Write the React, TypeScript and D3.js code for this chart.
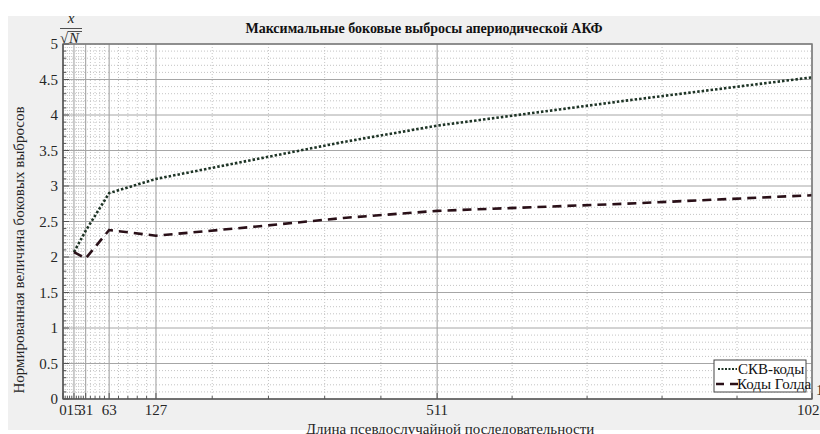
import React from "react";
import * as d3 from "d3";

const lengths = [15, 31, 63, 127, 255, 383, 511, 767, 1023];
const skvValues = [2.07, 2.37, 2.9, 3.1, 3.36, 3.62, 3.85, 4.2, 4.53];
const goldValues = [2.07, 1.98, 2.38, 2.3, 2.42, 2.55, 2.65, 2.75, 2.87];
const xTicks = [0, 15, 31, 63, 127, 511, 1023];
const yTicks = [0, 0.5, 1, 1.5, 2, 2.5, 3, 3.5, 4, 4.5, 5];

const title = "Максимальные боковые выбросы апериодической АКФ";
const xLabel = "Длина псевдослучайной последовательности";
const yLabel = "Нормированная величина боковых выбросов";
const seriesNames = ["СКВ-коды", "Коды Голда"];

const W = 820;
const H = 434;
const L = 63, R = 812, T = 44, B = 399;
const FONT = "Liberation Serif";
const SKV_COLOR = "#1e3426";
const GOLD_COLOR = "#2a1018";
const TXT = "#262626";

export default function App() {
  const x = d3.scaleLinear().domain([0, 1023]).range([L, R]);
  const y = d3.scaleLinear().domain([0, 5]).range([B, T]);

  const xMinor: number[] = [];
  for (let i = 0; i < xTicks.length - 1; i++) {
    const a = xTicks[i], b = xTicks[i + 1];
    for (let k = 1; k < 5; k++) xMinor.push(a + ((b - a) * k) / 5);
  }
  const yMinor: number[] = [];
  for (let i = 0; i <= 50; i++) {
    if (i % 5 !== 0) yMinor.push(i / 10);
  }

  const line = d3
    .line<[number, number]>()
    .x((d) => x(d[0]))
    .y((d) => y(d[1]));

  const skvPath = line(lengths.map((n, i) => [n, skvValues[i]] as [number, number])) || "";
  const goldPath = line(lengths.map((n, i) => [n, goldValues[i]] as [number, number])) || "";

  return (
    <div style={{ position: "absolute", left: 0, top: 0 }}>
      <svg width={W} height={H} style={{ display: "block" }}>
        <rect x={0} y={0} width={W} height={H} fill="#ffffff" />
        <rect x={8} y={16} width={W - 8} height={414} fill="#f0f0f0" />
        <rect x={L} y={T} width={R - L} height={B - T} fill="#ffffff" />

        {/* minor grid */}
        {xMinor.map((v, i) => (
          <line key={"xm" + i} x1={x(v)} x2={x(v)} y1={T} y2={B} stroke="#c4c4c4" strokeWidth={1} strokeDasharray="1,2" />
        ))}
        {yMinor.map((v, i) => (
          <line key={"ym" + i} x1={L} x2={R} y1={y(v)} y2={y(v)} stroke="#c4c4c4" strokeWidth={1} strokeDasharray="1,2" />
        ))}
        {/* major grid */}
        {xTicks.map((v, i) => (
          <line key={"xg" + i} x1={x(v)} x2={x(v)} y1={T} y2={B} stroke="#999999" strokeWidth={1} />
        ))}
        {yTicks.map((v, i) => (
          <line key={"yg" + i} x1={L} x2={R} y1={y(v)} y2={y(v)} stroke="#a6a6a6" strokeWidth={1} />
        ))}

        {/* data */}
        <path d={skvPath} fill="none" stroke={SKV_COLOR} strokeWidth={2.6} strokeDasharray="2.5,2" />
        <path d={goldPath} fill="none" stroke={GOLD_COLOR} strokeWidth={2.6} strokeDasharray="9,6" />

        {/* box */}
        <rect x={L} y={T} width={R - L} height={B - T} fill="none" stroke="#7a7a7a" strokeWidth={1.5} />
        <line x1={L} x2={L} y1={T} y2={B} stroke="#555555" strokeWidth={1.2} />
        <line x1={L} x2={R} y1={B} y2={B} stroke="#555555" strokeWidth={1.2} />

        {/* ticks */}
        {xTicks.map((v, i) => (
          <line key={"xt" + i} x1={x(v)} x2={x(v)} y1={B} y2={B - 6} stroke="#555555" strokeWidth={1} />
        ))}
        {xMinor.map((v, i) => (
          <line key={"xmt" + i} x1={x(v)} x2={x(v)} y1={B} y2={B - 3} stroke="#555555" strokeWidth={1} />
        ))}
        {yTicks.map((v, i) => (
          <line key={"yt" + i} x1={L} x2={L + 6} y1={y(v)} y2={y(v)} stroke="#555555" strokeWidth={1} />
        ))}
        {yMinor.map((v, i) => (
          <line key={"ymt" + i} x1={L} x2={L + 3} y1={y(v)} y2={y(v)} stroke="#555555" strokeWidth={1} />
        ))}

        {/* tick labels */}
        {xTicks.map((v, i) => (
          <text key={"xl" + i} x={x(v)} y={415} fontSize={15} textAnchor="middle" fontFamily={FONT} fill={TXT}>
            {v}
          </text>
        ))}
        {yTicks.map((v, i) => (
          <text key={"yl" + i} x={58} y={y(v) + 5} fontSize={15} textAnchor="end" fontFamily={FONT} fill={TXT}>
            {v}
          </text>
        ))}
        <text x={816} y={395} fontSize={15} fontFamily={FONT} fill={TXT}>1</text>

        {/* x / sqrt(N) */}
        <text x={71} y={23} fontSize={15} fontStyle="italic" textAnchor="middle" fontFamily={FONT} fill={TXT}>x</text>
        <line x1={60} x2={82} y1={28.5} y2={28.5} stroke={TXT} strokeWidth={0.8} />
        <text x={60} y={43} fontSize={15} fontFamily={FONT} fill={TXT}>√</text>
        <line x1={68} x2={82} y1={31.5} y2={31.5} stroke={TXT} strokeWidth={0.8} />
        <text x={69} y={43} fontSize={15} fontStyle="italic" fontFamily={FONT} fill={TXT}>N</text>

        {/* title & labels */}
        <text x={424} y={33} fontSize={14} fontWeight="bold" textAnchor="middle" fontFamily={FONT} fill="#111111">
          {title}
        </text>
        <text x={450} y={434} fontSize={15} textAnchor="middle" fontFamily={FONT} fill={TXT}>
          {xLabel}
        </text>
        <text transform={`translate(24, 250) rotate(-90)`} fontSize={15} textAnchor="middle" fontFamily={FONT} fill={TXT}>
          {yLabel}
        </text>

        {/* legend */}
        <rect x={714} y={360} width={92} height={32} fill="#ffffff" stroke="#444444" strokeWidth={1} />
        <line x1={718} x2={737} y1={369} y2={369} stroke={SKV_COLOR} strokeWidth={2} strokeDasharray="2,1.5" />
        <text x={738} y={374} fontSize={15} fontFamily={FONT} fill="#111111">{seriesNames[0]}</text>
        <line x1={716} x2={738} y1={384} y2={384} stroke={GOLD_COLOR} strokeWidth={2.4} strokeDasharray="8,6" />
        <text x={737} y={389} fontSize={15} fontFamily={FONT} fill="#111111">{seriesNames[1]}</text>
      </svg>
    </div>
  );
}
